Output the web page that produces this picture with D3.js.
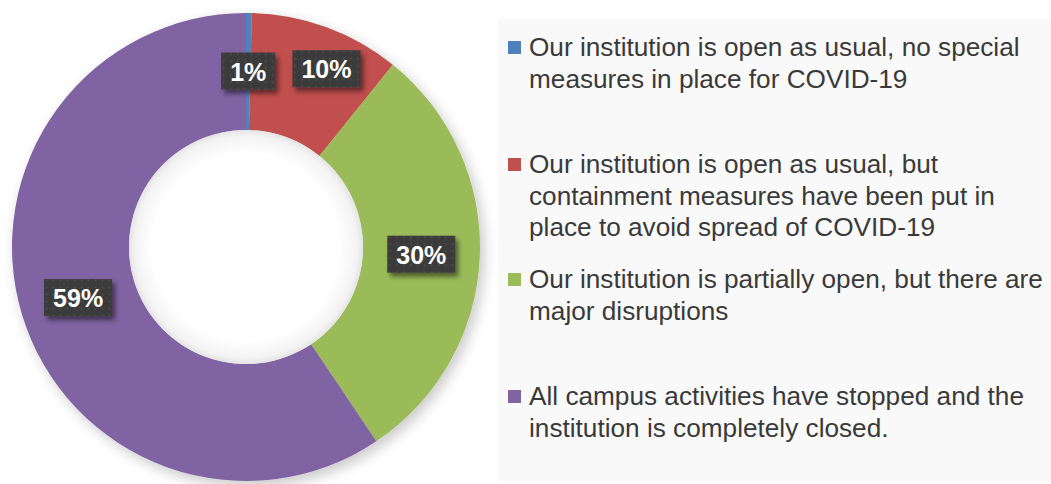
<!DOCTYPE html>
<html>
<head>
<meta charset="utf-8">
<script src="https://cdn.jsdelivr.net/npm/d3@7"></script>
<style>
  body { margin: 0; background: #fff; }
  svg { display: block; }
</style>
</head>
<body>
<script>
var width = 1051, height = 484;

// data
var categories = [
  "Our institution is open as usual, no special measures in place for COVID-19",
  "Our institution is open as usual, but containment measures have been put in place to avoid spread of COVID-19",
  "Our institution is partially open, but there are major disruptions",
  "All campus activities have stopped and the institution is completely closed."
];
var values = [0.4, 10.4, 29.8, 59.4];
var valueLabels = ["1%", "10%", "30%", "59%"];
var legendLines = [
  ["Our institution is open as usual, no special", "measures in place for COVID-19"],
  ["Our institution is open as usual, but", "containment measures have been put in", "place to avoid spread of COVID-19"],
  ["Our institution is partially open, but there are", "major disruptions"],
  ["All campus activities have stopped and the", "institution is completely closed."]
];
var colors = ["#4f81bd", "#c0504d", "#9bbb59", "#8064a2"];

var svg = d3.select("body")
    .append("svg")
    .attr("width", width)
    .attr("height", height);

var defs = svg.append("defs");

// soft shadow under the ring
var sh = defs.append("filter").attr("id", "ringShadow")
    .attr("x", "-20%").attr("y", "-20%").attr("width", "140%").attr("height", "140%");
sh.append("feGaussianBlur").attr("in", "SourceAlpha").attr("stdDeviation", 7).attr("result", "b");
sh.append("feOffset").attr("in", "b").attr("dx", 4).attr("dy", 5).attr("result", "o");
sh.append("feComponentTransfer").attr("in", "o").attr("result", "s")
  .append("feFuncA").attr("type", "linear").attr("slope", 0.22);
var m = sh.append("feMerge");
m.append("feMergeNode").attr("in", "s");
m.append("feMergeNode").attr("in", "SourceGraphic");

// shadow for label boxes
var bs = defs.append("filter").attr("id", "boxShadow")
    .attr("x", "-30%").attr("y", "-40%").attr("width", "160%").attr("height", "190%");
bs.append("feGaussianBlur").attr("in", "SourceAlpha").attr("stdDeviation", 2.5).attr("result", "b");
bs.append("feOffset").attr("in", "b").attr("dx", 3).attr("dy", 4).attr("result", "o");
bs.append("feComponentTransfer").attr("in", "o").attr("result", "s")
  .append("feFuncA").attr("type", "linear").attr("slope", 0.5);
var m2 = bs.append("feMerge");
m2.append("feMergeNode").attr("in", "s");
m2.append("feMergeNode").attr("in", "SourceGraphic");

// dotted texture on label boxes
var pat = defs.append("pattern").attr("id", "dots")
    .attr("width", 7).attr("height", 7).attr("patternUnits", "userSpaceOnUse");
pat.append("rect").attr("width", 7).attr("height", 7).attr("fill", "#3a3a3a");
pat.append("circle").attr("cx", 3.5).attr("cy", 3.5).attr("r", 0.9).attr("fill", "#535353");

// inner shading of the hole
var hg = defs.append("radialGradient").attr("id", "holeGrad");
hg.append("stop").attr("offset", "0.8").attr("stop-color", "#ffffff");
hg.append("stop").attr("offset", "0.95").attr("stop-color", "#f3f3f3");
hg.append("stop").attr("offset", "1").attr("stop-color", "#e4e4e4");

// legend panel
svg.append("rect")
    .attr("x", 498).attr("y", 19)
    .attr("width", width - 498).attr("height", 463)
    .attr("fill", "#f9f9f9");

var cx = 246, cy = 247, outerR = 234, innerR = 117;

var pie = d3.pie().sort(null).value(function(d) { return d; });
var arcs = pie(values);
var arc = d3.arc().innerRadius(innerR).outerRadius(outerR);

var chart = svg.append("g").attr("transform", "translate(" + cx + "," + cy + ")");

var ring = chart.append("g").attr("filter", "url(#ringShadow)");
ring.selectAll("path")
    .data(arcs)
    .enter()
    .append("path")
    .attr("d", arc)
    .attr("fill", function(d, i) { return colors[i]; });

chart.append("circle")
    .attr("r", innerR)
    .attr("fill", "url(#holeGrad)");

// data labels
var labelFont = "bold 25px 'Liberation Sans', Arial, sans-serif";
var ctx = document.createElement("canvas").getContext("2d");
ctx.font = labelFont;

var labels = chart.selectAll("g.lbl")
    .data(arcs)
    .enter()
    .append("g")
    .attr("class", "lbl")
    .attr("transform", function(d, i) {
        var c = arc.centroid(d);
        // the 10% label is pushed aside so it does not cover the 1% label
        if (i === 1) { c[0] += 20; c[1] -= 13; }
        return "translate(" + c[0] + "," + c[1] + ")";
    });

labels.append("rect")
    .attr("x", function(d, i) { return -(ctx.measureText(valueLabels[i]).width / 2 + 9); })
    .attr("y", -19)
    .attr("width", function(d, i) { return ctx.measureText(valueLabels[i]).width + 18; })
    .attr("height", 37)
    .attr("fill", "url(#dots)")
    .attr("filter", "url(#boxShadow)");

labels.append("text")
    .attr("text-anchor", "middle")
    .attr("dy", 9)
    .style("font", labelFont)
    .attr("fill", "#fff")
    .text(function(d, i) { return valueLabels[i]; });

// legend
var itemTops = [56, 173, 288, 405];
var lineH = 31.5;

var legend = svg.append("g");
var items = legend.selectAll("g.item")
    .data(categories)
    .enter()
    .append("g")
    .attr("class", "item")
    .attr("transform", function(d, i) { return "translate(508," + itemTops[i] + ")"; });

items.append("rect")
    .attr("x", 0).attr("y", -15)
    .attr("width", 13).attr("height", 13)
    .attr("fill", function(d, i) { return colors[i]; });

items.append("text")
    .attr("x", 21)
    .style("font", "26.2px 'Liberation Sans', Arial, sans-serif")
    .attr("fill", "#3a3a3a")
    .selectAll("tspan")
    .data(function(d, i) { return legendLines[i]; })
    .enter()
    .append("tspan")
    .attr("x", 21)
    .attr("dy", function(d, j) { return j === 0 ? 0 : lineH; })
    .text(function(d) { return d; });
</script>
</body>
</html>
